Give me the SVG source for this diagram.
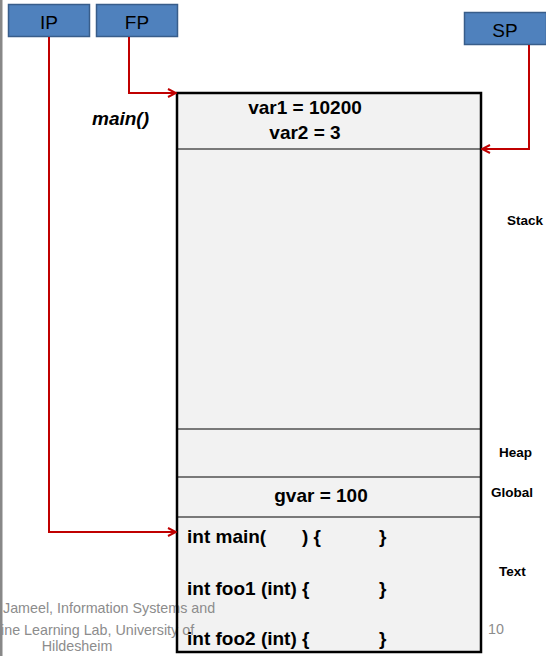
<svg xmlns="http://www.w3.org/2000/svg" width="546" height="656" viewBox="0 0 546 656">
<defs>
<style>
.reg{fill:#4f81bd;stroke:#385d8a;stroke-width:1.5}
.rl{font-family:"Liberation Sans",Arial,sans-serif;font-size:19px;fill:#000;text-anchor:middle}
.b{font-family:"Liberation Sans",Arial,sans-serif;font-weight:bold;font-size:19px;fill:#000}
.seg{font-family:"Liberation Sans",Arial,sans-serif;font-weight:bold;font-size:13.5px;fill:#000}
.foot{font-family:"Liberation Sans",Arial,sans-serif;font-size:14.3px;fill:#8c8c8c}
.div{stroke:#000;stroke-width:1}
.con{fill:none;stroke:#c00000;stroke-width:2}
</style>
<marker id="arr" markerWidth="10" markerHeight="10" refX="9" refY="5" orient="auto" markerUnits="userSpaceOnUse">
<path d="M1,1 L9,5 L1,9" fill="none" stroke="#c00000" stroke-width="2"/>
</marker>
</defs>
<rect x="0" y="0" width="546" height="656" fill="#fff"/>
<rect x="0" y="0" width="2.5" height="656" fill="#888"/>

<g id="memory">
<rect x="177" y="93" width="304" height="559" fill="#f2f2f2"/>
<g id="footer">
<text class="foot" x="3" y="613">Jameel, Information Systems and</text>
<text class="foot" x="1" y="635">ine Learning Lab, University of</text>
<text class="foot" x="77" y="651" text-anchor="middle">Hildesheim</text>
<text class="foot" x="488" y="634">10</text>
</g>
<rect x="177" y="93" width="304" height="559" fill="none" stroke="#000" stroke-width="2.5"/>
<line class="div" x1="177" y1="149" x2="481" y2="149"/>
<line class="div" x1="177" y1="429" x2="481" y2="429"/>
<line class="div" x1="177" y1="477" x2="481" y2="477"/>
<line class="div" x1="177" y1="517" x2="481" y2="517"/>
</g>

<g id="frame-main">
<text class="b" x="305" y="114" text-anchor="middle">var1 = 10200</text>
<text class="b" x="305" y="139" text-anchor="middle">var2 = 3</text>
<text class="b" x="92" y="125" font-style="italic">main()</text>
</g>

<g id="global">
<text class="b" x="321" y="502" text-anchor="middle">gvar = 100</text>
</g>

<g id="text-seg">
<text class="b" x="187" y="543">int main(<tspan x="302">) {</tspan><tspan x="379">}</tspan></text>
<text class="b" x="187" y="595">int foo1 (int) {<tspan x="379">}</tspan></text>
<text class="b" x="187" y="645">int foo2 (int) {<tspan x="379">}</tspan></text>
</g>

<g id="labels">
<text class="seg" x="507" y="225">Stack</text>
<text class="seg" x="499" y="457">Heap</text>
<text class="seg" x="491" y="497">Global</text>
<text class="seg" x="499" y="576">Text</text>
</g>

<g id="IP">
<rect class="reg" x="8.5" y="4.5" width="81" height="32"/>
<text class="rl" x="49" y="29">IP</text>
</g>
<g id="FP">
<rect class="reg" x="96.5" y="4.5" width="81" height="32"/>
<text class="rl" x="137" y="29">FP</text>
</g>
<g id="SP">
<rect class="reg" x="464.5" y="12.5" width="82" height="32"/>
<text class="rl" x="505" y="37">SP</text>
</g>

<g id="connectors">
<polyline class="con" points="49,37 49,532 176,532" marker-end="url(#arr)"/>
<polyline class="con" points="129,37 129,93 176,93" marker-end="url(#arr)"/>
<polyline class="con" points="529,45 529,149 482,149" marker-end="url(#arr)"/>
</g>
</svg>
